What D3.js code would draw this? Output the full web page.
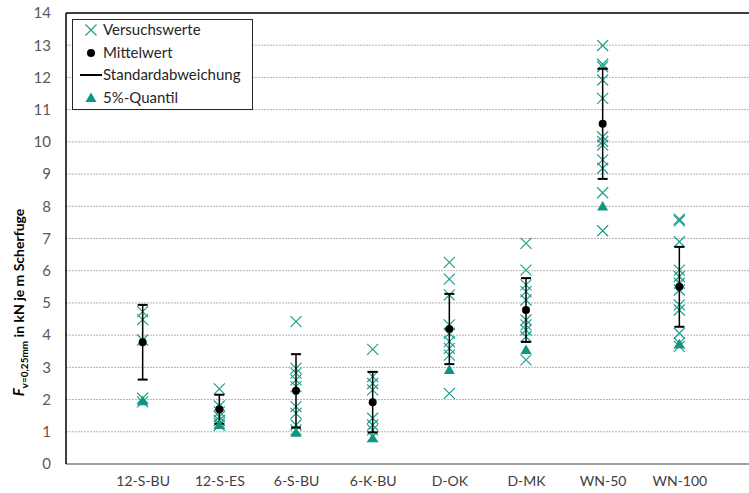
<!DOCTYPE html>
<html><head><meta charset="utf-8">
<script src="https://cdn.jsdelivr.net/npm/d3@7"></script>
<style>body{margin:0;background:#fff;} svg{display:block;font-family:Lato,"Open Sans",sans-serif;}</style>
</head><body>
<svg id="c" width="749" height="493"></svg>
<script>
const categories = ["12-S-BU","12-S-ES","6-S-BU","6-K-BU","D-OK","D-MK","WN-50","WN-100"];
const trials = [
  [4.73, 4.48, 3.85, 2.04, 1.93],
  [2.33, 1.80, 1.62, 1.47, 1.35, 1.26, 1.20],
  [4.42, 2.97, 2.82, 2.61, 2.40, 1.78, 1.57, 1.21, 1.06],
  [3.56, 2.71, 2.50, 2.30, 1.42, 1.21, 1.06, 0.85],
  [6.26, 5.74, 5.25, 4.32, 4.06, 3.80, 3.59, 3.38, 2.19],
  [6.85, 6.02, 5.56, 5.35, 5.09, 4.47, 4.32, 4.16, 3.95, 3.23],
  [12.99, 12.41, 12.33, 11.92, 11.35, 10.16, 10.01, 9.90, 9.44, 9.18, 8.42, 7.24],
  [7.60, 7.55, 6.90, 6.02, 5.82, 5.61, 5.40, 4.94, 4.78, 4.06, 3.75, 3.65]
];
const means = [3.78, 1.70, 2.27, 1.92, 4.19, 4.78, 10.56, 5.50];
const stdDevs = [1.16, 0.45, 1.14, 0.94, 1.09, 0.99, 1.71, 1.24];
const quantiles5 = [1.95, 1.21, 0.97, 0.80, 2.92, 3.54, 7.99, 3.72];
const yTicks = [0,1,2,3,4,5,6,7,8,9,10,11,12,13,14];
const legendLabels = ["Versuchswerte","Mittelwert","Standardabweichung","5%-Quantil"];

const teal = "#22a08e", teal2 = "#0f9682";
const svg = d3.select("#c");
const L = 66, T = 13, R = 756, B = 464;
const x = d3.scalePoint().domain(categories).range([L, R]).padding(1);
const y = d3.scaleLinear().domain([0, 14]).range([B, T]);

// gridlines
svg.append("g").selectAll("line").data(yTicks.filter(d => d > 0 && d < 14)).join("line")
  .attr("x1", L).attr("x2", 749).attr("y1", d => y(d)).attr("y2", d => y(d))
  .attr("stroke", "#b3b3b3").attr("stroke-width", 1).attr("stroke-dasharray", "2,1");

// frame
svg.append("line").attr("x1", L).attr("x2", 749).attr("y1", y(0)).attr("y2", y(0)).attr("stroke", "#7f7f7f").attr("stroke-width", 1.5);
svg.append("line").attr("x1", L).attr("x2", 749).attr("y1", y(14)).attr("y2", y(14)).attr("stroke", "#000").attr("stroke-width", 1.5);
svg.append("line").attr("x1", L).attr("x2", L).attr("y1", y(0)).attr("y2", y(14)).attr("stroke", "#000").attr("stroke-width", 1.5);

// y axis labels
const yAxis = d3.axisLeft(y).tickValues(yTicks).tickSize(0).tickPadding(15);
const ga = svg.append("g").attr("transform", `translate(${L},0)`).call(yAxis);
ga.select(".domain").remove();
ga.selectAll("text").attr("fill", "#595959").style("font-size", "15px").style("font-family", "Lato,sans-serif");

// x axis labels
const xAxis = d3.axisBottom(x).tickSize(0).tickPadding(12);
const gx = svg.append("g").attr("transform", `translate(0,${B})`).call(xAxis);
gx.select(".domain").remove();
gx.selectAll("text").attr("fill", "#404040").style("font-size", "14px").style("font-family", "Lato,sans-serif");

// y title
const yt = svg.append("text").attr("transform", `translate(24,${(y(0)+y(14))/2 + 64}) rotate(-90)`)
  .attr("text-anchor", "middle").attr("fill", "#000").style("font-size", "14px").style("font-weight", "bold");
yt.append("tspan").text("F").style("font-style", "italic").style("font-size", "15px");
yt.append("tspan").text("v=0,25mm").attr("dy", 4).style("font-size", "10px");
yt.append("tspan").text(" in kN je m Scherfuge").attr("dy", -4);

function crossPath(cx, cy, s) {
  return `M${cx-s},${cy-s}L${cx+s},${cy+s}M${cx-s},${cy+s}L${cx+s},${cy-s}`;
}
function triPath(cx, cy) {
  return `M${cx},${cy-5.5}L${cx+5.5},${cy+4}L${cx-5.5},${cy+4}Z`;
}

const points = [];
categories.forEach((c, i) => trials[i].forEach(v => points.push({c, v})));

// crosses
svg.append("g").selectAll("path").data(points).join("path")
  .attr("d", d => crossPath(x(d.c), y(d.v), 5.5))
  .attr("stroke", teal).attr("stroke-width", 1.2).attr("fill", "none");

// error bars
const eb = svg.append("g").selectAll("g").data(categories).join("g");
eb.append("line").attr("x1", d => x(d)).attr("x2", d => x(d))
  .attr("y1", (d, i) => y(means[i] - stdDevs[i])).attr("y2", (d, i) => y(means[i] + stdDevs[i]))
  .attr("stroke", "#000").attr("stroke-width", 1.5);
eb.append("line").attr("x1", d => x(d) - 5).attr("x2", d => x(d) + 5)
  .attr("y1", (d, i) => y(means[i] - stdDevs[i])).attr("y2", (d, i) => y(means[i] - stdDevs[i]))
  .attr("stroke", "#000").attr("stroke-width", 2);
eb.append("line").attr("x1", d => x(d) - 5).attr("x2", d => x(d) + 5)
  .attr("y1", (d, i) => y(means[i] + stdDevs[i])).attr("y2", (d, i) => y(means[i] + stdDevs[i]))
  .attr("stroke", "#000").attr("stroke-width", 2);

// quantile triangles
svg.append("g").selectAll("path").data(categories).join("path")
  .attr("d", (d, i) => triPath(x(d), y(quantiles5[i]))).attr("fill", teal2);

// means
svg.append("g").selectAll("circle").data(categories).join("circle")
  .attr("cx", d => x(d)).attr("cy", (d, i) => y(means[i])).attr("r", 4).attr("fill", "#000");

// legend
const lg = svg.append("g");
lg.append("rect").attr("x", 72.5).attr("y", 19.5).attr("width", 180).attr("height", 90)
  .attr("fill", "#fff").attr("stroke", "#262626").attr("stroke-width", 1);
const ly = [30, 53, 75, 98];
legendLabels.forEach((t, i) => {
  lg.append("text").attr("x", 103).attr("y", ly[i]).attr("dy", "0.35em").attr("fill", "#262626")
    .style("font-size", "15px").text(t);
});
lg.append("path").attr("d", crossPath(91, ly[0], 5.5)).attr("stroke", teal).attr("stroke-width", 1.2);
lg.append("circle").attr("cx", 91).attr("cy", ly[1]).attr("r", 4).attr("fill", "#000");
lg.append("line").attr("x1", 80).attr("x2", 102).attr("y1", ly[2]).attr("y2", ly[2]).attr("stroke", "#000").attr("stroke-width", 2);
lg.append("path").attr("d", triPath(91, ly[3])).attr("fill", teal2);
</script>
</body></html>
